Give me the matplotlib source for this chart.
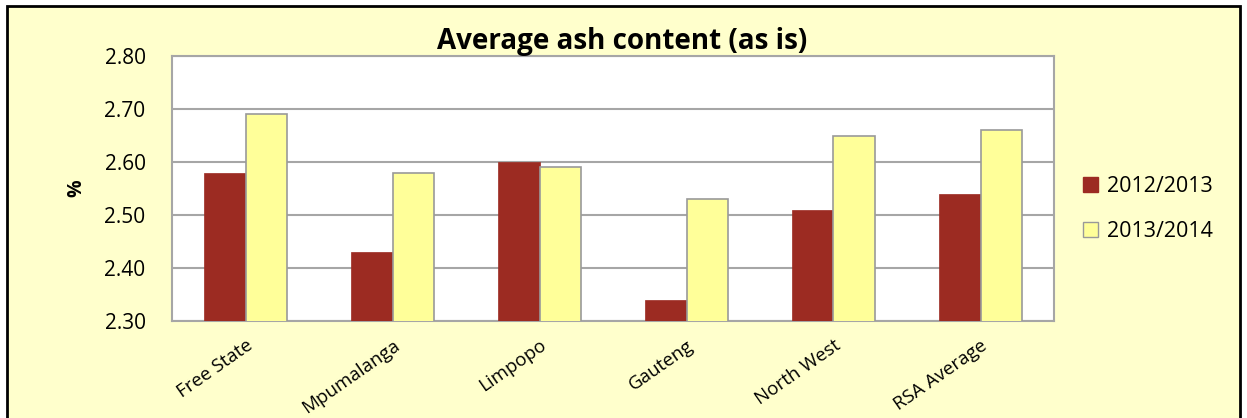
import matplotlib
matplotlib.use("Agg")
import matplotlib.pyplot as plt
from matplotlib.patches import Rectangle, Patch
import numpy as np

categories = ["Free State", "Mpumalanga", "Limpopo", "Gauteng", "North West", "RSA Average"]
series_names = ["2012/2013", "2013/2014"]
values_2012 = [2.58, 2.43, 2.60, 2.34, 2.51, 2.54]
values_2013 = [2.69, 2.58, 2.59, 2.53, 2.65, 2.66]
yticks = [2.30, 2.40, 2.50, 2.60, 2.70, 2.80]

plt.rcParams['font.family'] = ['Open Sans', 'DejaVu Sans']

W, H = 1247, 418
fig = plt.figure(figsize=(W/100, H/100), dpi=100)
fig.patch.set_facecolor("white")
bg = Rectangle((7/W, -0.05), (1240-7)/W, 1 - 6/H + 0.05, transform=fig.transFigure,
               facecolor="#FFFFCC", edgecolor="black", linewidth=2, zorder=-10)
fig.patches.append(bg)

ax = fig.add_axes([172/W, 1-321/H, (1054-172)/W, (321-56)/H])
ax.set_zorder(1)
ax.set_facecolor("white")
x = np.arange(len(categories))
bw = 0.28
ax.bar(x - bw/2, values_2012, bw, color="#9C2B22", edgecolor="#9C2B22", linewidth=0.5, zorder=3, label=series_names[0])
ax.bar(x + bw/2, values_2013, bw, color="#FFFF99", edgecolor="#999999", linewidth=1.2, zorder=3, label=series_names[1])
ax.set_xlim(-0.5, len(categories) - 0.5)
ax.set_ylim(2.30, 2.80)
ax.set_yticks(yticks)
ax.set_yticklabels([f"{v:.2f}" for v in yticks], fontsize=15)
ax.set_xticks(x)
ax.set_xticklabels(categories, rotation=35, ha="right", rotation_mode="anchor", fontsize=13.5)
ax.tick_params(axis="both", length=0)
ax.tick_params(axis="y", pad=19)
ax.tick_params(axis="x", pad=11)
ax.grid(axis="y", color="#A6A6A6", linewidth=1.5, zorder=0)
for s in ax.spines.values():
    s.set_color("#A6A6A6")
    s.set_linewidth(1.5)
ax.set_ylabel("%", fontsize=14, fontweight="bold", labelpad=13)
ax.set_title("Average ash content (as is)", fontsize=20, fontweight="bold", pad=5, x=0.51)

handles = [Patch(facecolor="#9C2B22", edgecolor="#9C2B22"), Patch(facecolor="#FFFF99", edgecolor="#999999")]
fig.legend(handles, series_names, loc="center left", bbox_to_anchor=(1064/W, 1-209/H), frameon=False,
           fontsize=15.5, handlelength=0.7, handleheight=0.7, handletextpad=0.4, labelspacing=1.1)

fig.savefig("out.png", dpi=100, facecolor=fig.get_facecolor())
